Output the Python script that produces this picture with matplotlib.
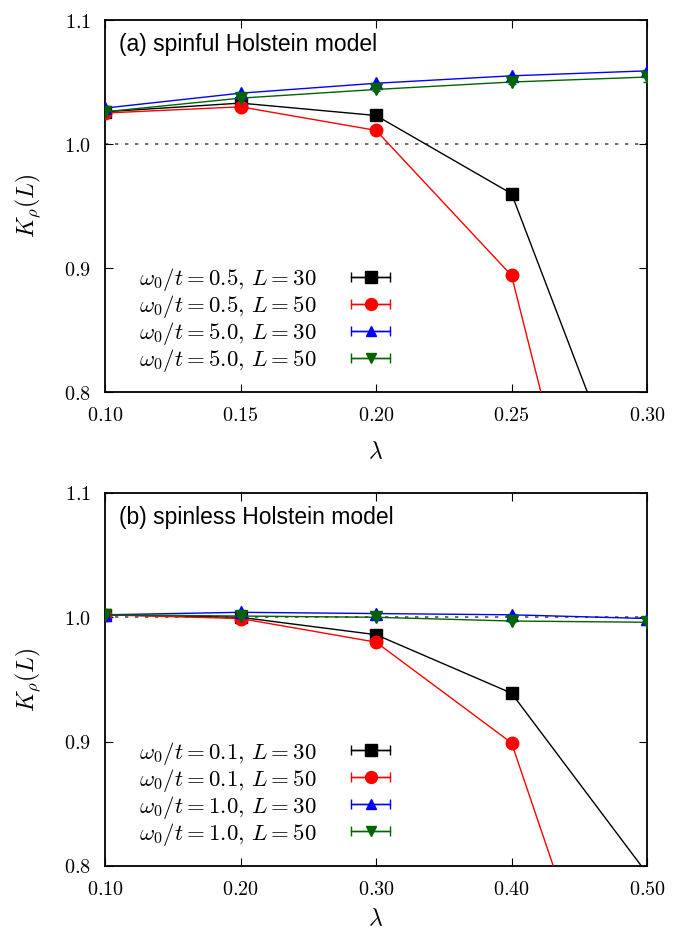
import matplotlib
matplotlib.use("Agg")
import matplotlib.pyplot as plt
from matplotlib.container import ErrorbarContainer
from matplotlib.legend_handler import HandlerErrorbar
import numpy as np

plt.rcParams['mathtext.fontset'] = 'cm'
plt.rcParams['font.family'] = ['Liberation Sans', 'DejaVu Sans']

# ---- data: panel (a) spinful ----
lam_a = [0.10, 0.15, 0.20, 0.25, 0.30]
a_w05_L30 = [1.026, 1.033, 1.023, 0.960, 0.674]
a_w05_L50 = [1.025, 1.030, 1.011, 0.894, 0.460]
a_w50_L30 = [1.029, 1.041, 1.049, 1.055, 1.059]
a_w50_L50 = [1.026, 1.037, 1.044, 1.050, 1.054]
a_w50_L50_err = [0.001, 0.001, 0.001, 0.002, 0.004]
labels_a = [r'$\omega_0/t=0.5,\,L=30$', r'$\omega_0/t=0.5,\,L=50$',
            r'$\omega_0/t=5.0,\,L=30$', r'$\omega_0/t=5.0,\,L=50$']
xticks_a = [0.10, 0.15, 0.20, 0.25, 0.30]

# ---- data: panel (b) spinless ----
lam_b = [0.10, 0.20, 0.30, 0.40, 0.50]
b_w01_L30 = [1.002, 1.000, 0.986, 0.939, 0.794]
b_w01_L50 = [1.002, 0.999, 0.980, 0.899, 0.578]
b_w10_L30 = [1.002, 1.004, 1.003, 1.002, 0.999]
b_w10_L50 = [1.002, 1.001, 1.000, 0.997, 0.996]
labels_b = [r'$\omega_0/t=0.1,\,L=30$', r'$\omega_0/t=0.1,\,L=50$',
            r'$\omega_0/t=1.0,\,L=30$', r'$\omega_0/t=1.0,\,L=50$']
xticks_b = [0.10, 0.20, 0.30, 0.40, 0.50]
yticks = [0.8, 0.9, 1.0, 1.1]

colors = ['black', 'red', 'blue', '#006400']
markers = ['s', 'o', '^', 'v']
msizes = [9, 9, 8, 8]

fig = plt.figure(figsize=(6.81, 9.35), dpi=100)
ax1 = fig.add_axes([0.1542, 0.5807, 0.7959, 0.3979])
ax2 = fig.add_axes([0.1542, 0.0738, 0.7959, 0.3990])

HL = 1.7


def draw(ax, lam, series, errs, labels, xticks, title, xpad):
    ax.axhline(1.0, color='#555555', ls=(0, (2, 4)), lw=1.2, zorder=1)
    handles = []
    for i, (ys, lab) in enumerate(zip(series, labels)):
        e = errs[i] if errs[i] is not None else [0.0005] * len(ys)
        ax.errorbar(lam, ys, yerr=e, color=colors[i], marker=markers[i],
                    ms=msizes[i], lw=1.0, capsize=3, elinewidth=1.0,
                    zorder=3 + i)
        # legend proxy in gnuplot style (horizontal bar with end caps)
        h = ax.errorbar([np.nan], [np.nan], xerr=[1.0], color=colors[i],
                        marker=markers[i], ms=msizes[i] * 0.95, lw=1.0,
                        capsize=3.5, elinewidth=1.0, label=lab)
        handles.append(h)
    ax.set_xlim(xticks[0], xticks[-1])
    ax.set_ylim(0.8, 1.1)
    ax.set_xticks(xticks)
    ax.set_xticklabels([r'$%.2f$' % v for v in xticks])
    ax.set_yticks(yticks)
    ax.set_yticklabels([r'$%.1f$' % v for v in yticks])
    ax.tick_params(direction='in', top=True, right=True, length=6,
                   labelsize=14.5, pad=10)
    for s in ax.spines.values():
        s.set_linewidth(1.3)
    ax.set_xlabel(r'$\lambda$', fontsize=17, labelpad=xpad)
    ax.set_ylabel(r'$K_\rho(L)$', fontsize=17, labelpad=16)
    ax.text(0.025, 0.965, title, transform=ax.transAxes, fontsize=16.5,
            va='top', ha='left')
    ax.legend(handles=handles, loc='lower left', bbox_to_anchor=(0.046, 0.025),
              frameon=False, markerfirst=False, fontsize=16.5,
              handlelength=HL, handletextpad=1.5, labelspacing=0.0,
              borderaxespad=0.0,
              handler_map={ErrorbarContainer: HandlerErrorbar(xerr_size=HL / 2)})


draw(ax1, lam_a, [a_w05_L30, a_w05_L50, a_w50_L30, a_w50_L50],
     [None, None, None, a_w50_L50_err], labels_a, xticks_a,
     '(a) spinful Holstein model', 12)
draw(ax2, lam_b, [b_w01_L30, b_w01_L50, b_w10_L30, b_w10_L50],
     [None, None, None, None], labels_b, xticks_b,
     '(b) spinless Holstein model', 7)

fig.savefig('out.png', dpi=100)
